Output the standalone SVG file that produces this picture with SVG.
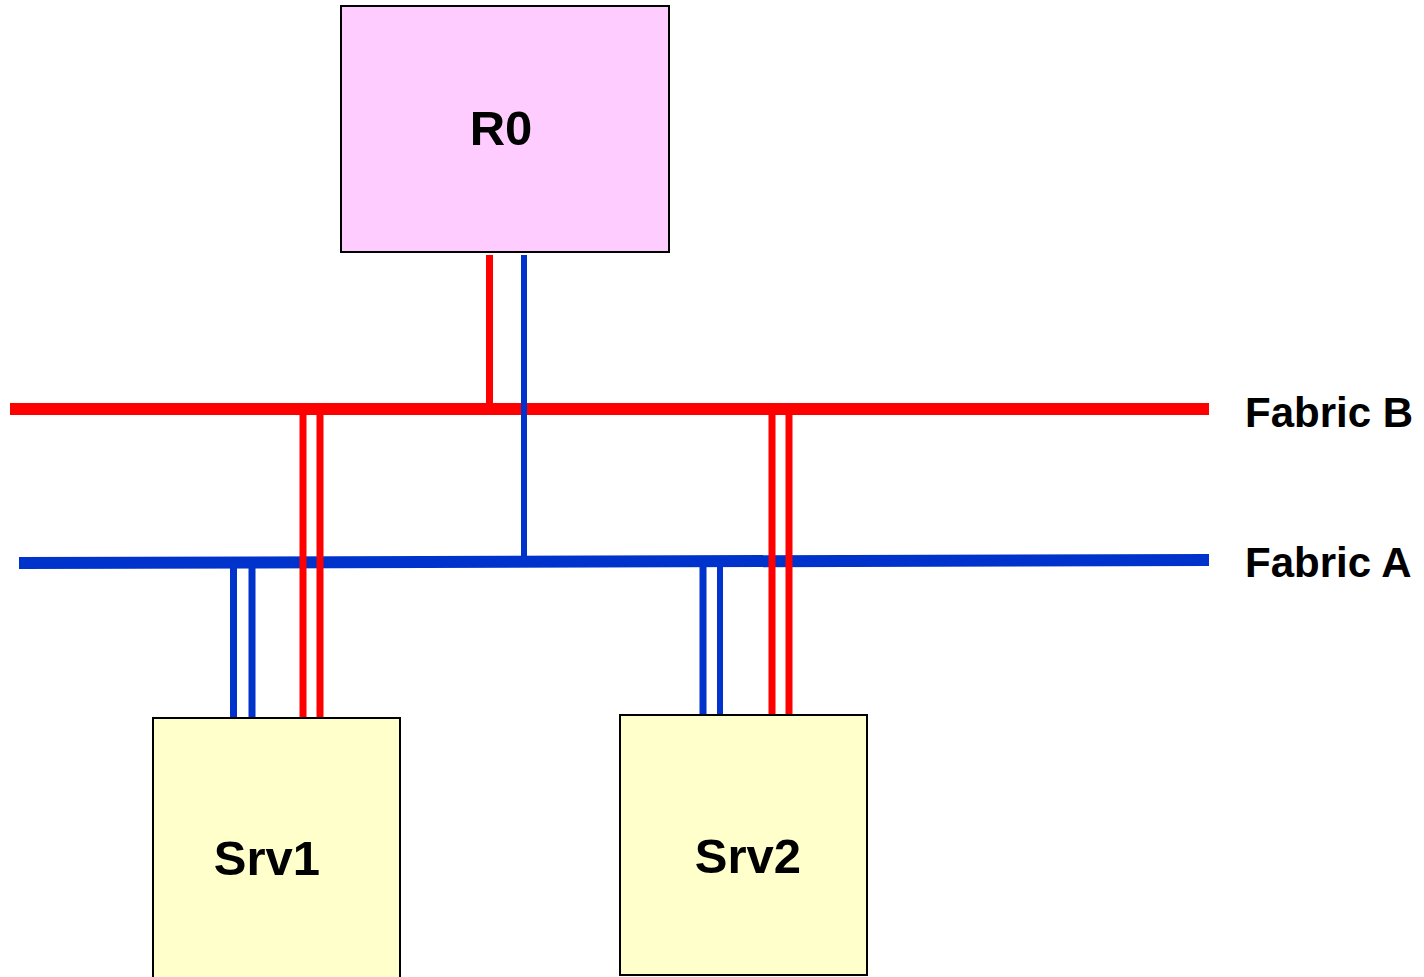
<svg xmlns="http://www.w3.org/2000/svg" width="1424" height="977" viewBox="0 0 1424 977">
<style>
.node{stroke:#000;stroke-width:2}
.lbl{font-family:"Liberation Sans",Arial,sans-serif;font-weight:bold;fill:#000}
.red{stroke:#FF0000;fill:none}
.blue{stroke:#0033CC;fill:none}
</style>
<rect width="1424" height="977" fill="#fff"/>
<g id="connectors">
<line class="red" x1="10" y1="409" x2="1209" y2="409" stroke-width="12"/>
<line class="blue" x1="19" y1="563" x2="1209" y2="560" stroke-width="12"/>
<line class="red" x1="489.5" y1="255" x2="489.5" y2="404" stroke-width="7"/>
<line class="blue" x1="524" y1="255" x2="524" y2="558" stroke-width="6"/>
<line class="red" x1="303" y1="414" x2="303" y2="718" stroke-width="7"/>
<line class="red" x1="320" y1="414" x2="320" y2="718" stroke-width="7"/>
<line class="blue" x1="233.5" y1="568" x2="233.5" y2="718" stroke-width="7"/>
<line class="blue" x1="252" y1="568" x2="252" y2="718" stroke-width="7"/>
<line class="red" x1="772" y1="414" x2="772" y2="715" stroke-width="7"/>
<line class="red" x1="789" y1="414" x2="789" y2="715" stroke-width="7"/>
<line class="blue" x1="703" y1="566" x2="703" y2="715" stroke-width="7"/>
<line class="blue" x1="720" y1="566" x2="720" y2="715" stroke-width="6"/>
</g>
<g id="R0">
<rect class="node" x="341" y="6" width="328" height="246" fill="#FFCCFF"/>
<text class="lbl" x="501" y="145" font-size="49" text-anchor="middle">R0</text>
</g>
<g id="Srv1">
<rect class="node" x="153" y="718" width="247" height="262" fill="#FFFFCC"/>
<text class="lbl" x="267" y="875" font-size="49" text-anchor="middle">Srv1</text>
</g>
<g id="Srv2">
<rect class="node" x="620" y="715" width="247" height="260" fill="#FFFFCC"/>
<text class="lbl" x="748" y="873" font-size="49" text-anchor="middle">Srv2</text>
</g>
<g id="FabricB">
<text class="lbl" x="1245" y="427" font-size="42">Fabric B</text>
</g>
<g id="FabricA">
<text class="lbl" x="1245" y="577" font-size="42">Fabric A</text>
</g>
</svg>
